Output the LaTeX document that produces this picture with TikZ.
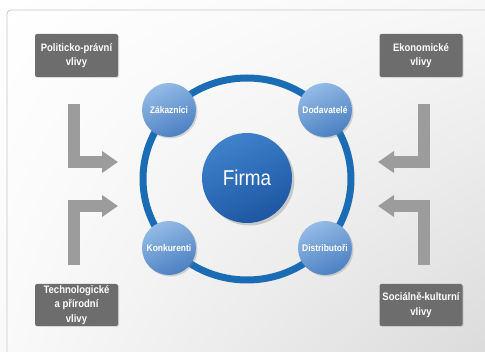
\documentclass[tikz,border=0pt]{standalone}
\usepackage{fontspec}
\setmainfont{Liberation Sans}[FakeStretch=0.88]
\usetikzlibrary{arrows.meta,shadows,shadings}
\definecolor{boxgray}{HTML}{6D6D6D}
\definecolor{arrowgray}{HTML}{9C9C9C}
\definecolor{ringblue}{HTML}{1A6CB5}
\definecolor{firmlight}{HTML}{3F82CC}
\definecolor{firmdark}{HTML}{1D56A2}
\definecolor{partlight}{HTML}{93BBE6}
\definecolor{partdark}{HTML}{4C80C2}
\tikzset{x=1pt, y=-1pt,
  influence/.style={rectangle, rounded corners=2pt, fill=boxgray, text=white,
    font=\fontsize{10.8}{14.5}\selectfont\bfseries, align=center, inner sep=0pt,
    minimum width=83pt, minimum height=43pt,
    drop shadow={opacity=0.25, shadow xshift=1pt, shadow yshift=-1pt}},
  flow/.style={draw=arrowgray, line width=12pt, line join=miter,
    -{Triangle[length=16pt, width=21pt]}},
  partner/.style={circle, minimum size=54pt, inner sep=0pt,
    top color=partlight, bottom color=partdark, shading angle=25, text=white,
    font=\fontsize{9.6}{11}\selectfont\bfseries,
    drop shadow={opacity=0.3, shadow xshift=1.5pt, shadow yshift=-1.5pt}},
  firm/.style={circle, minimum size=90pt, inner sep=0pt,
    top color=firmlight, bottom color=firmdark, shading angle=25, text=white,
    font=\fontsize{21.5}{24}\selectfont,
    drop shadow={opacity=0.35, shadow xshift=2.5pt, shadow yshift=-2.5pt}},
  ring/.style={draw=ringblue, line width=7pt}
}
\begin{document}
\begin{tikzpicture}
\useasboundingbox (0,0) rectangle (485,352);
% background and frame
\shade[upper left=white, upper right=black!3, lower left=black!2, lower right=black!14]
  (0,0) rectangle (485,352);
\draw[black!22, line width=0.8pt, rounded corners=4pt] (7,10) rectangle (495,362);

% ring with the firm and its partners
\draw[ring] (247,179) ellipse [x radius=104, y radius=101];
\node[firm] (firma) at (247,178) {Firma};
\node[partner] (zak) at (169,110) {Zákazníci};
\node[partner] (dod) at (325,110) {Dodavatelé};
\node[partner] (kon) at (169,248) {Konkurenti};
\node[partner] (dis) at (325,248) {Distributoři};

% environment influences
\node[influence] (polit) at (76.5,55.5) {Politicko-právní\\vlivy};
\node[influence] (ekon) at (421,55.5) {Ekonomické\\vlivy};
\node[influence, minimum height=42pt] (tech) at (76.5,305) {Technologické\\a přírodní\\vlivy};
\node[influence, minimum height=42pt] (soc) at (421,305) {Sociálně-kulturní\\vlivy};

\coordinate (politfrom) at (74,104);
\coordinate (politto) at (118,162);
\coordinate (ekonfrom) at (424,104);
\coordinate (ekonto) at (378,162);
\coordinate (techfrom) at (74,265);
\coordinate (techto) at (118,206);
\coordinate (socfrom) at (424,265);
\coordinate (socto) at (378,206);

\draw[flow] (politfrom) |- (politto);
\draw[flow] (ekonfrom) |- (ekonto);
\draw[flow] (techfrom) |- (techto);
\draw[flow] (socfrom) |- (socto);
\end{tikzpicture}
\end{document}
